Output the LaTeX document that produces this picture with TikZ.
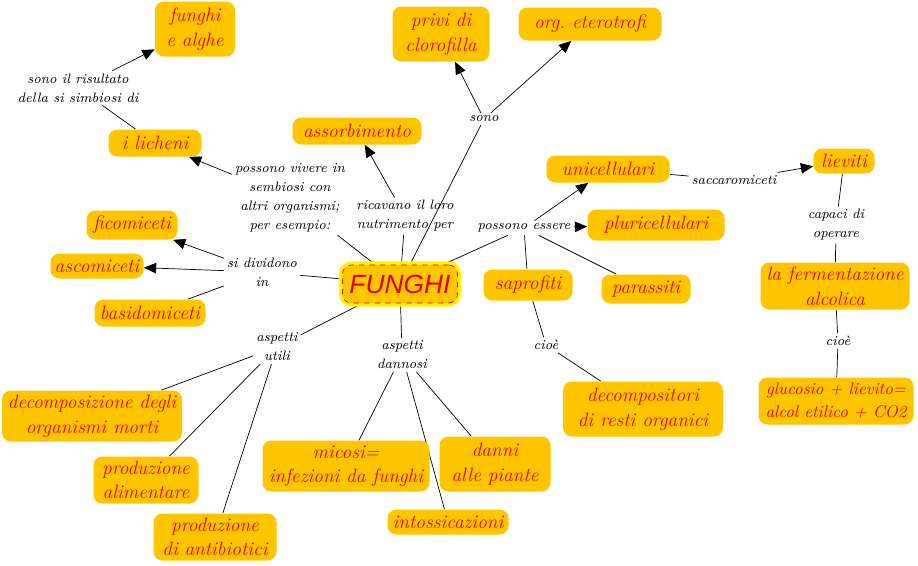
\documentclass[tikz,border=0pt]{standalone}
\usepackage{fontspec}
\newfontfamily\funfont{Liberation Sans}
\usetikzlibrary{arrows.meta}
\definecolor{boxfill}{RGB}{255,198,0}
\definecolor{boxred}{RGB}{228,0,0}
\pgfdeclarelayer{background}
\pgfsetlayers{background,main}
\tikzset{
  box/.style={fill=boxfill, rounded corners=5pt, text=boxred, align=center, inner sep=1pt, font=\itshape\fontsize{11}{14}\selectfont},
  sz/.style 2 args={minimum width=#1*0.02cm, minimum height=#2*0.02cm},
  lbl/.style={align=center, inner sep=1.5pt, font=\itshape\fontsize{7.8}{10.8}\selectfont},
  arr/.style={-{Triangle[length=7pt,width=6pt]}},
}
\begin{document}
\begin{tikzpicture}[x=0.02cm, y=-0.02cm]
\useasboundingbox (0,0) rectangle (918,565);
\node[box, sz={80}{55}] (fa) at (195,29) {funghi\\e alghe};
\node[box, sz={97}{55}] (pc) at (441,34) {privi di\\clorofilla};
\node[box, sz={143}{33}] (oe) at (590,24) {org.\ eterotrofi};
\node[box, sz={129}{27}] (ass) at (357,131) {assorbimento};
\node[box, sz={93}{27}] (lic) at (155,143) {i licheni};
\node[box, sz={123}{27}] (uni) at (608,169) {unicellulari};
\node[box, sz={61}{25}] (lie) at (844,161) {lieviti};
\node[box, sz={137}{31}] (plu) at (656,225) {pluricellulari};
\node[box, sz={91}{29}] (fic) at (132,225) {ficomiceti};
\node[box, sz={93}{25}] (asc) at (97,266) {ascomiceti};
\node[box, sz={115}{38}, draw=boxred, dashed, preaction={draw=yellow, line width=4pt, solid}, font=\funfont\itshape\fontsize{15}{18}\selectfont] (fun) at (400,284) {FUNGHI};
\node[box, sz={111}{27}] (bas) at (150,313) {basidomiceti};
\node[box, sz={89}{31}] (sap) at (528,285) {saprofiti};
\node[box, sz={89}{29}] (par) at (646,289) {parassiti};
\node[box, sz={149}{47}] (fer) at (835,286) {la fermentazione\\alcolica};
\node[box, sz={160}{55}] (dec) at (643,409) {decompositori\\di resti organici};
\node[box, sz={155}{47}, font=\itshape\fontsize{9.6}{13}\selectfont] (glu) at (836,401) {glucosio + lievito=\\alcol etilico + CO2};
\node[box, sz={180}{51}] (dom) at (92,416) {decomposizione degli\\organismi morti};
\node[box, sz={105}{47}] (pal) at (146,480) {produzione\\alimentare};
\node[box, sz={167}{51}] (mic) at (346,466) {micosi=\\infezioni da funghi};
\node[box, sz={111}{55}] (dan) at (495,464) {danni\\alle piante};
\node[box, sz={121}{25}] (int) at (448,522) {intossicazioni};
\node[box, sz={123}{47}] (pan) at (215,537) {produzione\\di antibiotici};
\node[lbl] (lRis) at (78,88) {sono il risultato\\della si simbiosi di};
\node[lbl] (lViv) at (290,198) {possono vivere in\\sembiosi con\\altri organismi;\\per esempio:};
\node[lbl] (lRic) at (405,216) {ricavano il loro\\nutrimento per};
\node[lbl] (lSono) at (484,119) {sono};
\node[lbl] (lPos) at (524,228) {possono essere};
\node[lbl] (lSac) at (734,180) {saccaromiceti};
\node[lbl] (lCap) at (836,225) {capaci di\\operare};
\node[lbl] (lDiv) at (262,272) {si dividono\\in};
\node[lbl] (lUti) at (277,347) {aspetti\\utili};
\node[lbl] (lDan) at (402,355) {aspetti\\dannosi};
\node[lbl] (lCioA) at (546,345) {cioè};
\node[lbl] (lCioB) at (838,341) {cioè};
\begin{pgfonlayer}{background}
\draw (lic) -- (lRis);
\draw[arr] (lRis) -- (fa);
\draw (fun) -- (lViv);
\draw[arr] (lViv) -- (lic);
\draw (fun) -- (lRic);
\draw[arr] (lRic) -- (ass);
\draw (fun) -- (lSono);
\draw[arr] (lSono) -- (pc);
\draw[arr] (lSono) -- (oe);
\draw (fun) -- (lPos);
\draw[arr] (lPos) -- (uni);
\draw[arr] (lPos) -- (plu);
\draw (lPos) -- (sap);
\draw (lPos) -- (par);
\draw (uni) -- (lSac);
\draw[arr] (lSac) -- (lie);
\draw (lie) -- (lCap);
\draw (lCap) -- (fer);
\draw (fer) -- (lCioB);
\draw (lCioB) -- (glu);
\draw (sap) -- (lCioA);
\draw (lCioA) -- (dec);
\draw (fun) -- (lDiv);
\draw[arr] (lDiv) -- (fic);
\draw[arr] (lDiv) -- (asc);
\draw (lDiv) -- (bas);
\draw (fun) -- (lUti);
\draw (lUti) -- (dom);
\draw (lUti) -- (pal);
\draw (lUti) -- (pan);
\draw (fun) -- (lDan);
\draw (lDan) -- (mic);
\draw (lDan) -- (int);
\draw (lDan) -- (dan);
\end{pgfonlayer}
\end{tikzpicture}
\end{document}
